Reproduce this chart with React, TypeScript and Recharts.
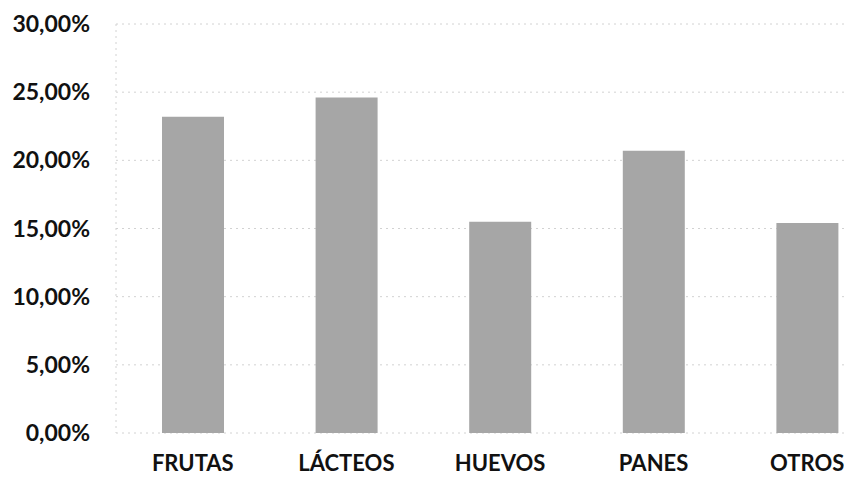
import React from 'react';
import { BarChart, Bar, XAxis, YAxis, CartesianGrid } from 'recharts';

// Share of purchases per food group (percent)
const categories = ['FRUTAS', 'LÁCTEOS', 'HUEVOS', 'PANES', 'OTROS'];
const shares = [23.2, 24.6, 15.5, 20.7, 15.4];
const yTicks = [0, 5, 10, 15, 20, 25, 30];

const data = categories.map((name, i) => ({ name, share: shares[i] }));

const fmtPct = (v: number) => `${v.toFixed(2).replace('.', ',')}%`;

const FONT = 'Lato, "Open Sans", sans-serif';

const App: React.FC = () => {
  return (
    <div
      style={{
        position: 'fixed',
        left: 0,
        top: 0,
        width: 844,
        height: 486,
        overflow: 'hidden',
        background: '#fff',
      }}
    >
      <BarChart
        width={900}
        height={486}
        data={data}
        margin={{ top: 24, right: 16, left: 0, bottom: 0 }}
      >
        <CartesianGrid
          vertical={false}
          stroke="#d2d2d2"
          strokeDasharray="2 4"
        />
        <XAxis
          dataKey="name"
          height={53}
          axisLine={false}
          tickLine={false}
          tickSize={0}
          tickMargin={22}
          tick={{ fill: '#111', fontSize: 22, fontWeight: 700, fontFamily: FONT }}
        />
        <YAxis
          width={116}
          domain={[0, 30]}
          ticks={yTicks}
          tickFormatter={fmtPct}
          axisLine={{ stroke: '#d2d2d2', strokeDasharray: '2 4' }}
          tickLine={false}
          tickSize={0}
          tickMargin={26}
          tick={{ fill: '#111', fontSize: 23, fontWeight: 700, fontFamily: FONT }}
        />
        <Bar dataKey="share" fill="#a6a6a6" barSize={62} isAnimationActive={false} />
      </BarChart>
    </div>
  );
};

export default App;
